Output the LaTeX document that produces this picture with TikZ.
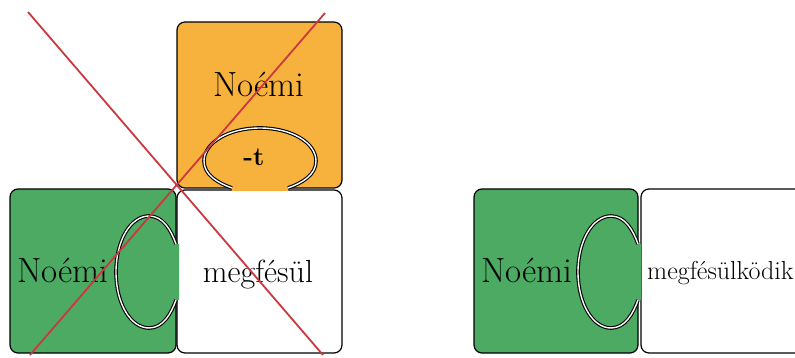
\documentclass[tikz,border=0pt]{standalone}
\usepackage{fontspec}
\definecolor{orangec}{RGB}{247,177,61}
\definecolor{greenc}{RGB}{77,170,99}
\definecolor{crossred}{RGB}{203,56,63}
\newcommand\knobcurve{(0,-28) .. controls (5,-42) and (13,-56) .. (27,-56) .. controls (45,-56) and (60,-32) .. (60,0) .. controls (60,32) and (45,56) .. (27,56) .. controls (13,56) and (5,42) .. (0,28)}
\begin{document}
\begin{tikzpicture}[x=1pt,y=-1pt,
  box/.style={draw=black,line width=1.2pt,rounded corners=8pt},
  knobline/.style={draw=black,line width=1.1pt,double=white,double distance=1.4pt,line join=round},
  cross/.style={draw=crossred,line width=1.8pt},
  big/.style={font=\fontsize{35}{40}\selectfont, anchor=base, inner sep=0pt}]
\useasboundingbox (0,0) rectangle (795,357);
% white boxes
\draw[box,fill=white] (177,190) rectangle (342,353);
\draw[box,fill=white] (641,189) rectangle (810,353);
% orange box
\draw[box,fill=orangec] (177,22) rectangle (342,188);
\begin{scope}[shift={(260,188)}, x={(0pt,1pt)}, y={(1pt,0pt)}]
  \fill[orangec] \knobcurve -- (-3,28) -- (-3,-28) -- cycle;
  \draw[knobline] \knobcurve;
\end{scope}
% green boxes
\draw[box,fill=greenc] (10,189) rectangle (176,353);
\begin{scope}[shift={(176,272)}, x={(-1pt,0pt)}, y={(0pt,-1pt)}]
  \fill[greenc] \knobcurve -- (-3,28) -- (-3,-28) -- cycle;
  \draw[knobline] \knobcurve;
\end{scope}
\draw[box,fill=greenc] (474,189) rectangle (638,353);
\begin{scope}[shift={(638,272)}, x={(-1pt,0pt)}, y={(0pt,-1pt)}]
  \fill[greenc] \knobcurve -- (-3,28) -- (-3,-28) -- cycle;
  \draw[knobline] \knobcurve;
\end{scope}
% texts
\node[big] (n1) at (259,96) {Noémi};
\node[font=\fontsize{26}{30}\selectfont\bfseries, anchor=base, inner sep=0pt] (t) at (254,165) {-t};
\node[font=\fontsize{32}{36}\selectfont, anchor=base, inner sep=0pt] (m1) at (258,282) {megfésül};
\node[big] (n2) at (63,282) {Noémi};
\node[big] (n3) at (527,282) {Noémi};
\node[font=\fontsize{26}{30}\selectfont, anchor=base west, inner sep=0pt] (m2) at (647,279) {megfésülködik};
% cross
\coordinate (c1) at (28,12);
\coordinate (c2) at (323,355);
\coordinate (c3) at (325,13);
\coordinate (c4) at (30,355);
\draw[cross] (c1) -- (c2);
\draw[cross] (c3) -- (c4);
\end{tikzpicture}
\end{document}
